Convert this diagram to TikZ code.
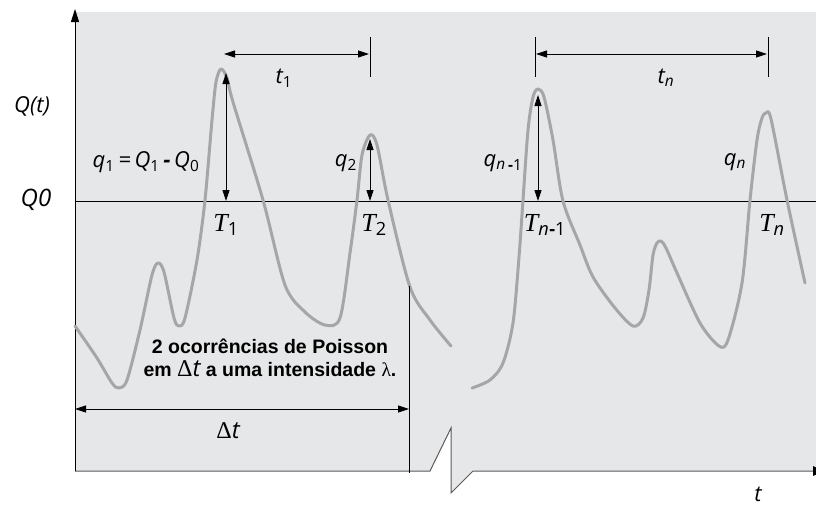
\documentclass[tikz,border=0pt]{standalone}
\usepackage{fontspec}
\setmainfont{Liberation Sans}
\newfontfamily\lab{Open Sans}
\newfontfamily\tms{Liberation Serif}
\usetikzlibrary{arrows.meta}
\definecolor{bg}{RGB}{230,231,232}
\definecolor{crv}{RGB}{166,166,166}
\definecolor{axc}{RGB}{90,90,90}
\newcommand{\lsub}[1]{\textsubscript{\upshape #1}}
\begin{document}
\begin{tikzpicture}[x=1pt,y=-1pt,
  curve/.style={crv, line width=3pt, line cap=round, line join=round},
  dim/.style={black, line width=0.8pt, {Triangle[length=11pt,width=7pt]}-{Triangle[length=11pt,width=7pt]}},
  tick/.style={black, line width=0.8pt},
  lbl/.style={inner sep=0pt, font=\fontsize{22}{24}\selectfont\lab\itshape},
  tlbl/.style={inner sep=0pt, font=\fontsize{26}{28}\selectfont\tms\itshape},
  note/.style={inner sep=0pt, align=center, font=\fontsize{19.5}{23}\selectfont\bfseries}]
\useasboundingbox (0,0) rectangle (816,507);
% background
\fill[bg] (75,12) -- (816,12) -- (816,471) -- (473,471) -- (451,493) -- (451,428) -- (430,471) -- (75,471) -- cycle;
% axes
\coordinate (O) at (75,471);
\coordinate (Ytop) at (75,9);
\coordinate (Xend) at (824,471);
\draw[axc, line width=1pt] (O) -- (430,471) -- (451,428) -- (451,493) -- (473,471) -- (Xend);
\draw[black, line width=1pt, -{Triangle[length=13pt,width=8pt]}] (O) -- (Ytop);
\fill[black] (813,466) -- (824,471) -- (813,476) -- cycle;
% Q0 line
\coordinate (Q0l) at (75,201);
\coordinate (Q0r) at (816,201);
\draw[black, line width=0.8pt] (Q0l) -- (Q0r);
% curves
\draw[curve] plot[smooth, tension=0.5] coordinates {(75,326) (97,358) (112,383) (119,388) (127,380) (140,330) (152,275) (158,263) (164,272) (174,318) (179,326) (185,318) (197,260) (205,200) (212,120) (216,82) (221,69) (227,78) (233,102) (263,200) (285,285) (305,312) (325,325) (340,318) (350,253) (357,200) (362,155) (370,135) (377,145) (388,200) (410,287) (430,320) (451,346)};
\draw[curve] plot[smooth, tension=0.5] coordinates {(472,388) (490,380) (503,363) (513,323) (519,257) (523,200) (528,130) (533,97) (538,89) (544,97) (553,140) (563,201) (580,245) (593,277) (615,308) (633,326) (643,318) (649,290) (653,255) (657,243) (661,241) (666,248) (677,273) (700,323) (719,346) (728,340) (742,283) (750,200) (757,140) (762,118) (766,113) (771,119) (787,200) (805,283)};
% peak arrows
\coordinate (P1) at (226,73);
\coordinate (B1) at (226,201);
\coordinate (P2) at (370,139);
\coordinate (B2) at (370,201);
\coordinate (Pn1) at (538,95);
\coordinate (Bn1) at (538,201);
\draw[dim] (P1) -- (B1);
\draw[dim] (P2) -- (B2);
\draw[dim] (Pn1) -- (Bn1);
% t1 and tn
\coordinate (t1a) at (224,54);
\coordinate (t1b) at (369,54);
\coordinate (k1a) at (370,37);
\coordinate (k1b) at (370,77);
\draw[tick] (k1a) -- (k1b);
\draw[dim] (t1a) -- (t1b);
\coordinate (tna) at (536,54);
\coordinate (tnb) at (767,54);
\coordinate (kna) at (535,37);
\coordinate (knb) at (535,77);
\coordinate (kma) at (768,37);
\coordinate (kmb) at (768,77);
\draw[tick] (kna) -- (knb);
\draw[tick] (kma) -- (kmb);
\draw[dim] (tna) -- (tnb);
% Delta t
\coordinate (da) at (75,409);
\coordinate (db) at (409,409);
\coordinate (dv) at (409,286);
\coordinate (dw) at (409,473);
\draw[tick] (dv) -- (dw);
\draw[dim] (da) -- (db);
% labels
\node[lbl] (Qt) at (32,106) {Q(t)};
\node[lbl, font=\fontsize{24}{26}\selectfont\lab\itshape] (Q0) at (36,200) {Q0};
\node[lbl] (q1) at (146,162) {q\lsub{1}\,=\,Q\lsub{1}\,\textbf{-}\,Q\lsub{0}};
\node[lbl] (q2) at (346,163) {q\lsub{2}};
\node[lbl] (qn1) at (503,163) {q\lsub{\itshape n}\lsub{\,\textbf{-}1}};
\node[lbl] (qn) at (735,162) {q\lsub{\itshape n}};
\node[lbl] (t1) at (284,78) {t\lsub{1}};
\node[lbl] (tn) at (666,78) {t\lsub{\itshape n}};
\node[lbl] (tx) at (758,494) {t};
\node[tlbl] (T1) at (226,225) {T\lsub{\lab 1}};
\node[tlbl] (T2) at (374,225) {T\lsub{\lab 2}};
\node[tlbl] (Tn1) at (545,225) {T\lsub{\lab\itshape n}\lsub{\lab\textbf{-}1}};
\node[tlbl] (Tn) at (772,225) {T\lsub{\lab\itshape n}};
\node[note] (pois) at (270,358) {2 ocorrências de Poisson\\em {\mdseries\tms\fontsize{24}{24}\selectfont Δ}{\mdseries\lab\itshape\fontsize{24}{24}\selectfont t} a uma intensidade {\mdseries\tms λ}.};
\node[inner sep=0pt, font=\fontsize{24}{26}\selectfont] (dt) at (228,431) {{\tms Δ}{\lab\itshape t}};
\end{tikzpicture}
\end{document}
